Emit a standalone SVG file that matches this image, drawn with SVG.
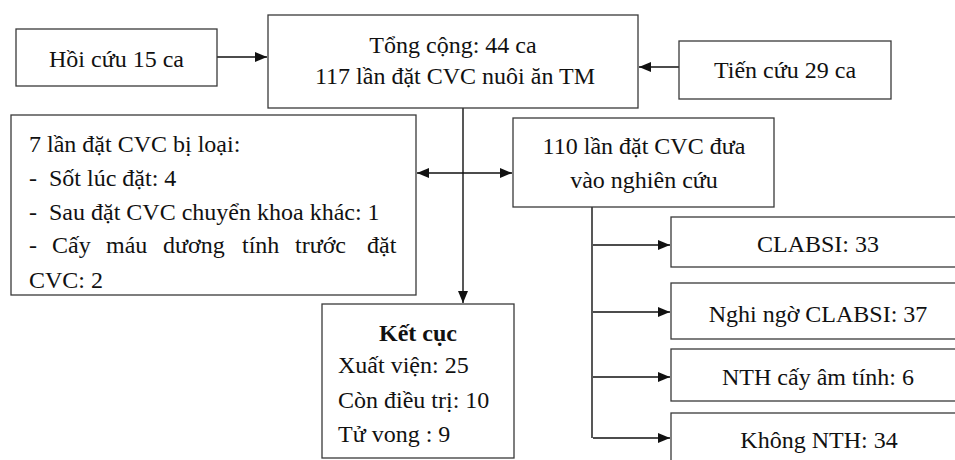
<svg xmlns="http://www.w3.org/2000/svg" width="955" height="460" viewBox="0 0 955 460">
<style>
  .box { fill: #ffffff; stroke: #3a3a3a; stroke-width: 1.3; }
  .t { font-family: "Liberation Serif", "Times New Roman", serif; font-size: 24px; fill: #111; }
  .c { text-anchor: middle; }
  .b { font-weight: bold; }
  .ln { fill: none; stroke: #111; stroke-width: 1.4; }
</style>
<defs>
  <marker id="arr" viewBox="0 0 12 10" refX="12" refY="5" markerWidth="12" markerHeight="10" markerUnits="userSpaceOnUse" orient="auto-start-reverse">
    <path d="M0,0 L12,5 L0,10 z" fill="#111"/>
  </marker>
</defs>
<rect width="955" height="460" fill="#ffffff"/>

<g id="connectors">
  <line class="ln" x1="217" y1="57" x2="267" y2="57" marker-end="url(#arr)"/>
  <line class="ln" x1="679" y1="67" x2="639" y2="67" marker-end="url(#arr)"/>
  <line class="ln" x1="463" y1="108" x2="463" y2="303" marker-end="url(#arr)"/>
  <line class="ln" x1="417" y1="173" x2="512" y2="173" marker-start="url(#arr)" marker-end="url(#arr)"/>
  <line class="ln" x1="592" y1="207" x2="592" y2="438"/>
  <line class="ln" x1="593" y1="245" x2="670" y2="245" marker-end="url(#arr)"/>
  <line class="ln" x1="593" y1="312" x2="670" y2="312" marker-end="url(#arr)"/>
  <line class="ln" x1="593" y1="377" x2="670" y2="377" marker-end="url(#arr)"/>
  <line class="ln" x1="593" y1="438" x2="670" y2="438" marker-end="url(#arr)"/>
</g>

<g id="hoi-cuu">
  <rect class="box" x="16" y="29" width="201" height="57"/>
  <text class="t c" x="116.5" y="67">Hồi cứu 15 ca</text>
</g>

<g id="tong-cong">
  <rect class="box" x="268" y="15" width="370" height="93"/>
  <text class="t c" x="453" y="53">Tổng cộng: 44 ca</text>
  <text class="t c" x="455" y="84">117 lần đặt CVC nuôi ăn TM</text>
</g>

<g id="tien-cuu">
  <rect class="box" x="679" y="41" width="212" height="58"/>
  <text class="t c" x="785" y="78">Tiến cứu 29 ca</text>
</g>

<g id="bi-loai">
  <rect class="box" x="11" y="115" width="405" height="180"/>
  <text class="t" x="29" y="152">7 lần đặt CVC bị loại:</text>
  <text class="t" y="186"><tspan x="29">-</tspan><tspan x="49">Sốt lúc đặt: 4</tspan></text>
  <text class="t" y="220"><tspan x="29">-</tspan><tspan x="49">Sau đặt CVC chuyển khoa khác: 1</tspan></text>
  <text class="t" y="253"><tspan x="29">-</tspan><tspan x="52">Cấy</tspan><tspan x="106">máu</tspan><tspan x="163">dương</tspan><tspan x="242">tính</tspan><tspan x="295">trước</tspan><tspan x="367">đặt</tspan></text>
  <text class="t" x="29" y="288">CVC: 2</text>
</g>

<g id="nghien-cuu">
  <rect class="box" x="513" y="118" width="261" height="89"/>
  <text class="t c" x="644" y="154">110 lần đặt CVC đưa</text>
  <text class="t c" x="644" y="188">vào nghiên cứu</text>
</g>

<g id="ket-cuc">
  <rect class="box" x="322" y="304" width="192" height="154"/>
  <text class="t c b" x="418" y="341">Kết cục</text>
  <text class="t" x="338" y="373">Xuất viện: 25</text>
  <text class="t" x="338" y="408">Còn điều trị: 10</text>
  <text class="t" x="338" y="442">Tử vong : 9</text>
</g>

<g id="clabsi">
  <rect class="box" x="671" y="217" width="295" height="50"/>
  <text class="t c" x="818" y="252">CLABSI: 33</text>
</g>

<g id="nghi-ngo">
  <rect class="box" x="671" y="283" width="295" height="56"/>
  <text class="t c" x="818" y="322">Nghi ngờ CLABSI: 37</text>
</g>

<g id="nth-am-tinh">
  <rect class="box" x="671" y="349" width="295" height="52"/>
  <text class="t c" x="818" y="385">NTH cấy âm tính: 6</text>
</g>

<g id="khong-nth">
  <rect class="box" x="671" y="413" width="295" height="60"/>
  <text class="t c" x="819" y="448">Không NTH: 34</text>
</g>
</svg>
